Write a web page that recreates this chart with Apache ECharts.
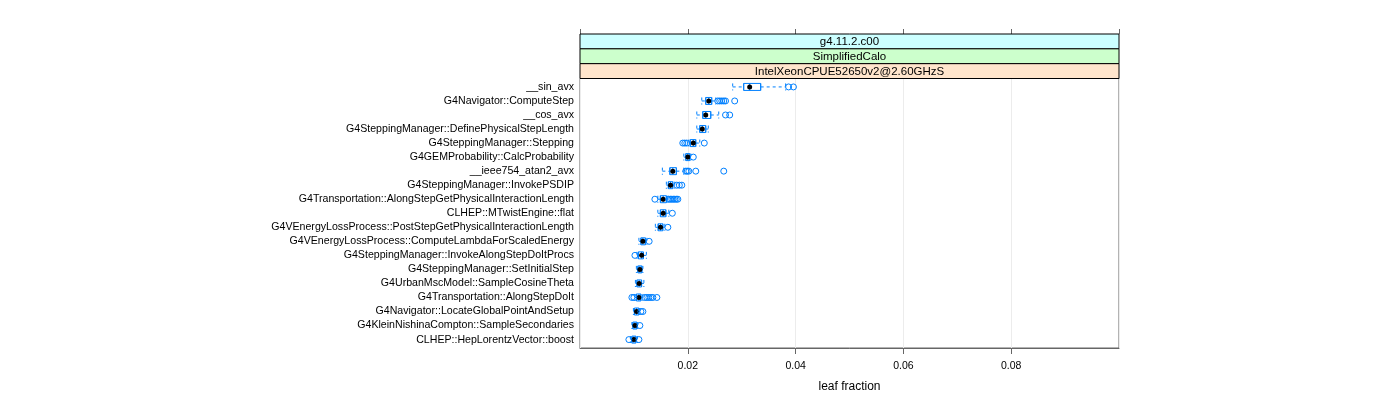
<!DOCTYPE html>
<html>
<head>
<meta charset="utf-8">
<script src="https://cdn.jsdelivr.net/npm/echarts@6/dist/echarts.min.js"></script>
<style>
  html, body { margin: 0; padding: 0; background: #fff; }
  #chart { width: 1400px; height: 400px; }
</style>
</head>
<body>
<div id="chart"></div>
<script>
// ---- data ----
const categories = [
  '__sin_avx',
  'G4Navigator::ComputeStep',
  '__cos_avx',
  'G4SteppingManager::DefinePhysicalStepLength',
  'G4SteppingManager::Stepping',
  'G4GEMProbability::CalcProbability',
  '__ieee754_atan2_avx',
  'G4SteppingManager::InvokePSDIP',
  'G4Transportation::AlongStepGetPhysicalInteractionLength',
  'CLHEP::MTwistEngine::flat',
  'G4VEnergyLossProcess::PostStepGetPhysicalInteractionLength',
  'G4VEnergyLossProcess::ComputeLambdaForScaledEnergy',
  'G4SteppingManager::InvokeAlongStepDoItProcs',
  'G4SteppingManager::SetInitialStep',
  'G4UrbanMscModel::SampleCosineTheta',
  'G4Transportation::AlongStepDoIt',
  'G4Navigator::LocateGlobalPointAndSetup',
  'G4KleinNishinaCompton::SampleSecondaries',
  'CLHEP::HepLorentzVector::boost'
];
const whiskerLow = [0.02833, 0.02259, 0.02167, 0.02167, 0.02019, 0.01926, 0.01528, 0.01602, 0.01444, 0.01444,
                    0.01398, 0.01093, 0.01056, 0.01046, 0.01028, 0.01019, 0.00991, 0.00963, 0.00935];
const quart1     = [0.03037, 0.02333, 0.02278, 0.02222, 0.02046, 0.01963, 0.01667, 0.01639, 0.01491, 0.01491,
                    0.01450, 0.01130, 0.01083, 0.01074, 0.01056, 0.01046, 0.01009, 0.00981, 0.00963];
const medians    = [0.03148, 0.02389, 0.02333, 0.02269, 0.02102, 0.02000, 0.01722, 0.01680, 0.01543, 0.01543,
                    0.01494, 0.01167, 0.01143, 0.01111, 0.01098, 0.01093, 0.01050, 0.01019, 0.01000];
const quart3     = [0.03352, 0.02444, 0.02426, 0.02333, 0.02148, 0.02037, 0.01787, 0.01722, 0.01602, 0.01593,
                    0.01537, 0.01213, 0.01176, 0.01148, 0.01143, 0.01130, 0.01093, 0.01056, 0.01037];
const whiskerHigh= [0.03815, 0.02519, 0.02574, 0.02380, 0.02222, 0.02056, 0.01926, 0.01759, 0.01630, 0.01648,
                    0.01574, 0.01241, 0.01231, 0.01167, 0.01185, 0.01167, 0.01111, 0.01074, 0.01065];
const outliers = [
  [0.0387, 0.0396],
  [0.02556, 0.02593, 0.0263, 0.02667, 0.0270, 0.0287],
  [0.0270, 0.02778],
  [],
  [0.01907, 0.01944, 0.01981, 0.02306],
  [0.02102],
  [0.01963, 0.0199, 0.02019, 0.02148, 0.02667],
  [0.01796, 0.01843, 0.01889],
  [0.01389, 0.01648, 0.01676, 0.01704, 0.01731, 0.01759, 0.01787, 0.01815],
  [0.01713],
  [0.0163],
  [0.01283],
  [0.01019],
  [],
  [],
  [0.00963, 0.0100, 0.01204, 0.01241, 0.01278, 0.01315, 0.01352, 0.01426],
  [0.0113, 0.01167],
  [0.01111],
  [0.00907, 0.01093]
];
const xTicks = [0.02, 0.04, 0.06, 0.08];
const stripLabels = ['g4.11.2.c00', 'SimplifiedCalo', 'IntelXeonCPUE52650v2@2.60GHzS'];

// ---- build ----
const FONT = 'Liberation Sans, Arial, Helvetica, sans-serif';
const BLUE = '#0080ff';
const AXC = '#666';

// whiskers + median dot (custom), box outline (built-in boxplot, whiskers collapsed onto box)
const whiskData = categories.map((c, i) => [i, whiskerLow[i], quart1[i], medians[i], quart3[i], whiskerHigh[i]]);
const boxOnlyData = categories.map((c, i) => [i, quart1[i], quart1[i], medians[i], quart3[i], quart3[i]]);
const outData = [];
outliers.forEach((arr, i) => arr.forEach(v => outData.push([v, i])));

function renderWhiskers(params, api) {
  const yv = api.value(0);
  const lo = api.coord([api.value(1), yv]);
  const q1 = api.coord([api.value(2), yv]);
  const md = api.coord([api.value(3), yv]);
  const q3 = api.coord([api.value(4), yv]);
  const hi = api.coord([api.value(5), yv]);
  const h = Math.abs(api.size([0, 1])[1]) * 0.5;
  const cy = lo[1];
  const top = cy - h / 2, bot = cy + h / 2;
  const dash = () => ({ stroke: BLUE, lineWidth: 1, lineDash: [3, 3], fill: null });
  return {
    type: 'group',
    children: [
      { type: 'line', shape: { x1: lo[0], y1: cy, x2: q1[0], y2: cy }, style: dash() },
      { type: 'line', shape: { x1: q3[0], y1: cy, x2: hi[0], y2: cy }, style: dash() },
      { type: 'line', shape: { x1: lo[0], y1: top, x2: lo[0], y2: bot }, style: dash() },
      { type: 'line', shape: { x1: hi[0], y1: top, x2: hi[0], y2: bot }, style: dash() },
      { type: 'circle', z2: 5, shape: { cx: md[0], cy: cy, r: 2.5 }, style: { fill: '#000' } }
    ]
  };
}

const GL = 580, GR = 1119, GT = 78.5, GB = 348;
const stripTop = 34, stripH = (GT - stripTop) / 3;
const stripColors = ['#ccffff', '#ccffcc', '#ffe5cc'];
const graphics = [];
stripLabels.forEach((t, k) => {
  graphics.push({
    type: 'rect', z: 10,
    shape: { x: GL, y: stripTop + k * stripH, width: GR - GL, height: stripH },
    style: { fill: stripColors[k], stroke: '#000', lineWidth: 1 }
  });
  graphics.push({
    type: 'text', z: 11,
    x: (GL + GR) / 2, y: stripTop + k * stripH + stripH / 2 + 0.5,
    style: { text: t, font: '11.5px ' + FONT, fill: '#000', align: 'center', verticalAlign: 'middle' }
  });
});

const chart = echarts.init(document.getElementById('chart'), null, { renderer: 'canvas' });
chart.setOption({
  animation: false,
  backgroundColor: '#fff',
  grid: { left: GL, right: 1400 - GR, top: GT, bottom: 400 - GB, show: true,
          borderColor: AXC, borderWidth: 1, backgroundColor: 'transparent' },
  graphic: graphics,
  xAxis: [
    {
      type: 'value', min: 0, max: 0.1, interval: 0.02, position: 'bottom',
      name: 'leaf fraction', nameLocation: 'middle', nameGap: 33,
      nameTextStyle: { fontFamily: FONT, fontSize: 12, color: '#000' },
      axisLine: { show: true, onZero: false, lineStyle: { color: AXC } },
      axisTick: { show: true, length: 6, lineStyle: { color: AXC } },
      axisLabel: { show: true, margin: 13, fontFamily: FONT, fontSize: 10.5, color: '#000',
                   showMinLabel: false, showMaxLabel: false,
                   formatter: v => (xTicks.some(t => Math.abs(t - v) < 1e-9) ? v.toFixed(2) : '') },
      splitLine: { show: true, lineStyle: { color: '#ececec', width: 1 } }
    },
    {
      type: 'value', min: 0, max: 0.1, interval: 0.02, position: 'top', offset: GT - stripTop,
      axisLine: { show: false, onZero: false },
      axisTick: { show: true, length: 5, lineStyle: { color: AXC } },
      axisLabel: { show: false },
      splitLine: { show: false }
    }
  ],
  yAxis: {
    type: 'value', min: -0.6, max: categories.length - 0.4, inverse: true,
    axisLine: { show: false, onZero: false },
    axisTick: { show: false },
    splitLine: { show: false },
    axisLabel: {
      show: true, margin: 6, fontFamily: FONT, fontSize: 10.6, color: '#000',
      customValues: categories.map((c, i) => i),
      formatter: v => categories[Math.round(v)] || ''
    }
  },
  series: [
    {
      type: 'boxplot', name: 'box', layout: 'vertical', data: boxOnlyData,
      boxWidth: [7, 7], z: 3,
      itemStyle: { color: 'rgba(0,0,0,0)', borderColor: BLUE, borderWidth: 1 },
      emphasis: { disabled: true }
    },
    {
      type: 'custom', name: 'whiskers', renderItem: renderWhiskers, data: whiskData,
      encode: { x: [1, 2, 3, 4, 5], y: 0 }, z: 4, clip: false
    },
    {
      type: 'scatter', name: 'outliers', data: outData, symbol: 'circle', symbolSize: 6,
      itemStyle: { color: 'rgba(0,0,0,0)', borderColor: BLUE, borderWidth: 1, opacity: 1 },
      z: 5
    }
  ]
});
</script>
</body>
</html>
